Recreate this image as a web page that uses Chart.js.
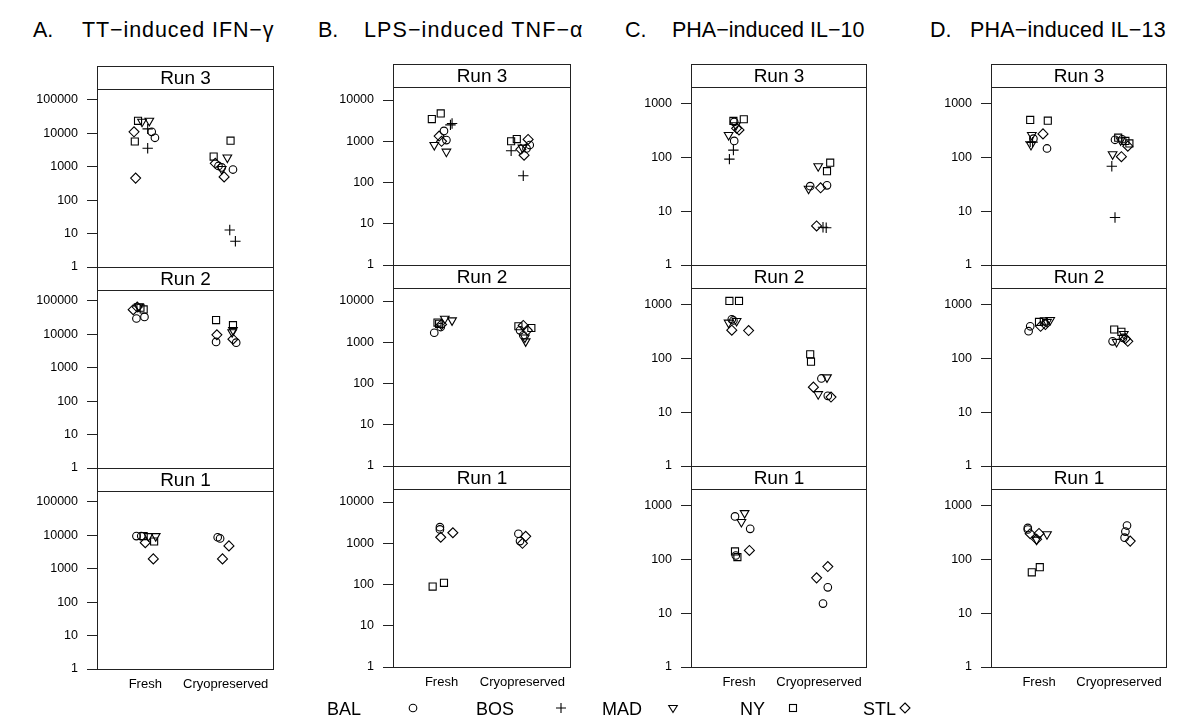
<!DOCTYPE html>
<html>
<head>
<meta charset="utf-8">
<script src="https://cdn.jsdelivr.net/npm/chart.js@4.4.0/dist/chart.umd.min.js"></script>
<style>
  body { margin: 0; background: #fff; width: 1200px; height: 727px; position: relative; overflow: hidden;
         font-family: "Liberation Sans", Arial, sans-serif; color: #000; }
  canvas { position: absolute; }
  .title { position: absolute; font-size: 21.5px; white-space: pre; line-height: 1; }
  .leg { position: absolute; font-size: 18px; line-height: 1; top: 700px; }
  .sym { position: absolute; top: 701px; }
</style>
</head>
<body>
<script>
// categories
var sites = ['BAL', 'BOS', 'MAD', 'NY', 'STL'];
var groups = ['Fresh', 'Cryopreserved'];
var runs = ['Run 3', 'Run 2', 'Run 1'];

// y tick labels per panel column
var ticksA = [1, 10, 100, 1000, 10000, 100000];
var ticksB = [1, 10, 100, 1000, 10000];
var ticksC = [1, 10, 100, 1000];
var ticksD = [1, 10, 100, 1000];

// points: [x (1 = Fresh, 2 = Cryopreserved, jittered), value]
// A. TT-induced IFN-gamma
var A3 = {
  BAL: [[1.08, 11000], [1.12, 7300], [1.91, 1050], [1.95, 950], [2.09, 820]],
  BOS: [[1.03, 3560], [1.03, 13500], [2.05, 12.8], [2.12, 5.9]],
  MAD: [[0.96, 22000], [1.05, 23500], [2.02, 1870], [1.95, 850]],
  NY:  [[0.91, 23500], [0.87, 5650], [2.06, 6000], [1.85, 2000]],
  STL: [[0.86, 11000], [0.88, 455], [1.87, 1260], [1.98, 495]]
};
var A2 = {
  BAL: [[0.89, 29500], [0.99, 33000], [1.88, 5900], [2.13, 5600]],
  BOS: [],
  MAD: [[0.92, 68000], [2.09, 13300], [2.08, 11500]],
  NY:  [[0.98, 55000], [0.94, 62000], [1.88, 26500], [2.09, 18700]],
  STL: [[0.85, 54000], [0.90, 65000], [1.89, 9600], [2.09, 7100]]
};
var A1 = {
  BAL: [[0.89, 9400], [0.95, 9400], [1.90, 8700], [1.93, 8000]],
  BOS: [],
  MAD: [[1.04, 9400], [1.13, 9400]],
  NY:  [[0.98, 9400], [1.11, 6500]],
  STL: [[1.00, 6000], [1.10, 1960], [2.04, 4800], [1.96, 1960]]
};
// B. LPS-induced TNF-alpha
var B3 = {
  BAL: [[1.03, 1780], [1.06, 1070], [2.09, 810], [2.05, 670]],
  BOS: [[1.13, 2700], [1.11, 2500], [1.86, 590], [2.01, 146]],
  MAD: [[0.91, 810], [1.06, 560], [2.00, 700]],
  NY:  [[0.88, 3460], [0.99, 4740], [1.86, 1000], [1.93, 1130]],
  STL: [[0.97, 1340], [1.00, 1000], [2.07, 1110], [1.98, 640], [2.02, 460]]
};
var B2 = {
  BAL: [[0.91, 1700], [0.99, 2340], [1.97, 1950], [2.01, 1480]],
  BOS: [],
  MAD: [[1.04, 3730], [1.13, 3400], [2.04, 1050], [2.03, 1300]],
  NY:  [[0.95, 3000], [0.97, 2800], [1.95, 2450], [2.11, 2220]],
  STL: [[1.00, 2700], [2.01, 2560], [2.06, 1950]]
};
var B1 = {
  BAL: [[0.98, 2460], [0.98, 2170], [1.95, 1700], [1.97, 1130]],
  BOS: [],
  MAD: [],
  NY:  [[0.89, 89], [1.03, 110]],
  STL: [[0.99, 1400], [1.14, 1800], [2.04, 1470], [2.00, 1000]]
};
// C. PHA-induced IL-10
var C3 = {
  BAL: [[0.94, 450], [0.94, 200], [1.89, 29], [2.10, 30]],
  BOS: [[0.93, 135], [0.88, 92], [2.05, 5.0], [2.09, 4.9]],
  MAD: [[0.87, 257], [0.96, 390], [1.99, 68], [1.87, 26]],
  NY:  [[0.93, 470], [1.06, 505], [2.14, 79], [2.10, 55]],
  STL: [[0.97, 343], [1.00, 320], [2.02, 27], [1.97, 5.3]]
};
var C2 = {
  BAL: [[0.91, 525], [0.93, 500], [2.03, 42], [2.11, 20]],
  BOS: [],
  MAD: [[0.87, 455], [0.97, 490], [2.10, 44], [1.99, 21.5]],
  NY:  [[0.88, 1150], [1.00, 1150], [1.89, 118], [1.90, 86]],
  STL: [[0.91, 330], [1.12, 325], [1.93, 29], [2.15, 19]]
};
var C1 = {
  BAL: [[0.95, 620], [1.14, 365], [0.96, 117], [2.11, 30], [2.05, 15]],
  BOS: [],
  MAD: [[1.07, 715], [1.03, 490]],
  NY:  [[0.95, 139], [0.98, 109]],
  STL: [[1.13, 145], [2.11, 73], [1.97, 45]]
};
// D. PHA-induced IL-13
var D3 = {
  BAL: [[0.93, 220], [1.10, 145], [1.95, 210], [2.04, 215]],
  BOS: [[0.89, 193], [0.92, 190], [1.91, 68], [1.95, 7.6]],
  MAD: [[0.91, 257], [0.90, 168], [1.92, 113], [2.02, 205]],
  NY:  [[0.89, 490], [1.11, 475], [1.99, 230], [2.08, 200], [2.13, 180]],
  STL: [[1.05, 270], [2.11, 160], [2.03, 102]]
};
var D2 = {
  BAL: [[0.87, 316], [0.89, 390], [1.92, 205], [2.05, 237]],
  BOS: [],
  MAD: [[1.10, 470], [1.14, 510], [1.97, 200], [2.06, 280]],
  NY:  [[1.00, 470], [1.06, 480], [1.94, 340], [2.03, 308]],
  STL: [[1.02, 390], [1.08, 420], [2.11, 205], [2.08, 230]]
};
var D1 = {
  BAL: [[0.86, 380], [0.86, 355], [2.10, 420], [2.08, 325], [2.07, 250]],
  BOS: [],
  MAD: [[0.97, 230], [1.10, 290]],
  NY:  [[0.91, 57], [1.01, 71]],
  STL: [[0.89, 297], [0.97, 233], [1.00, 300], [2.14, 216]]
};

// layout of the four columns (pixels)
var AXIS_W = 80, STRIP_H = 23, PAD_R = 8, EXTRA = 20, XAXIS_H = 30;
var columns = [
  { letter: 'A.', title: 'TT\u2212induced IFN\u2212\u03b3', tx: 33, sx: 82,  ls: 0.9, left: 97,  width: 177, top: 66, rowH: 201, ymax: 2.1e5,  ticks: ticksA, data: [A3, A2, A1] },
  { letter: 'B.', title: 'LPS\u2212induced TNF\u2212\u03b1', tx: 318, sx: 364, ls: 1.1, left: 393, width: 178, top: 64, rowH: 201, ymax: 2.07e4, ticks: ticksB, data: [B3, B2, B1] },
  { letter: 'C.', title: 'PHA\u2212induced IL\u221210',     tx: 625, sx: 672, ls: 0,   left: 691, width: 176, top: 64, rowH: 201, ymax: 2000,   ticks: ticksC, data: [C3, C2, C1] },
  { letter: 'D.', title: 'PHA\u2212induced IL\u221213',     tx: 930, sx: 970, ls: 0.2, left: 991, width: 176, top: 64, rowH: 201, ymax: 2000,   ticks: ticksD, data: [D3, D2, D1] }
];

var symbols = {
  BAL: { pointStyle: 'circle', radius: 3.8, rotation: 0 },
  BOS: { pointStyle: 'cross', radius: 5.2, rotation: 0 },
  MAD: { pointStyle: 'triangle', radius: 5, rotation: 180 },
  NY:  { pointStyle: 'rect', radius: 5, rotation: 0 },
  STL: { pointStyle: 'rectRot', radius: 5, rotation: 0 }
};

var LINE = '#222';
var FONT = '"Liberation Sans", Arial, sans-serif';

// strip + panel box
var framePlugin = {
  id: 'frame',
  afterDraw: function (chart, args, opts) {
    var a = chart.chartArea, ctx = chart.ctx;
    var l = Math.round(a.left) + 0.5, r = Math.round(a.right) - 0.5;
    var t = Math.round(a.top) + 0.5, b = Math.round(a.bottom) + 0.5;
    var st = t - STRIP_H;
    ctx.save();
    ctx.strokeStyle = LINE;
    ctx.lineWidth = 1;
    ctx.strokeRect(l, st, r - l, b - st);
    ctx.beginPath();
    ctx.moveTo(l, t);
    ctx.lineTo(r, t);
    ctx.stroke();
    ctx.fillStyle = '#000';
    ctx.font = '19px ' + FONT;
    ctx.textAlign = 'center';
    ctx.textBaseline = 'middle';
    ctx.fillText(opts.label, (l + r) / 2, st + STRIP_H / 2 + 1);
    ctx.restore();
  }
};

function addText(cls, text, x, y) {
  var d = document.createElement('div');
  d.className = cls;
  d.textContent = text;
  d.style.left = x + 'px';
  if (y !== undefined) d.style.top = y + 'px';
  document.body.appendChild(d);
  return d;
}

columns.forEach(function (col) {
  addText('title', col.letter, col.tx, 20);
  addText('title', col.title, col.sx, 20).style.letterSpacing = col.ls + 'px';

  col.data.forEach(function (panel, r) {
    var bottom = r === runs.length - 1;
    var canvas = document.createElement('canvas');
    var w = AXIS_W + col.width + PAD_R;
    var h = col.rowH + (bottom ? XAXIS_H : EXTRA);
    canvas.width = w;
    canvas.height = h;
    canvas.style.left = (col.left - AXIS_W) + 'px';
    canvas.style.top = (col.top + r * col.rowH) + 'px';
    document.body.appendChild(canvas);

    var datasets = sites.map(function (s) {
      var sym = symbols[s];
      return {
        label: s,
        data: panel[s].map(function (p) { return { x: p[0], y: p[1] }; }),
        pointStyle: sym.pointStyle,
        pointRadius: sym.radius,
        pointRotation: sym.rotation,
        borderColor: '#000',
        backgroundColor: 'rgba(0,0,0,0)',
        pointBorderWidth: 1.1,
        showLine: false
      };
    });

    new Chart(canvas.getContext('2d'), {
      type: 'scatter',
      data: { datasets: datasets },
      plugins: [framePlugin],
      options: {
        responsive: false,
        animation: false,
        events: [],
        layout: { padding: { top: STRIP_H, right: PAD_R, left: 0, bottom: bottom ? 0 : EXTRA } },
        plugins: {
          legend: { display: false },
          tooltip: { enabled: false },
          frame: { label: runs[r] }
        },
        scales: {
          x: {
            type: 'linear',
            min: 0.4,
            max: 2.6,
            display: bottom,
            afterBuildTicks: function (scale) { scale.ticks = [{ value: 1 }, { value: 2 }]; },
            afterFit: function (scale) { if (bottom) scale.height = XAXIS_H; },
            grid: { display: false, drawTicks: false },
            border: { display: false },
            ticks: {
              padding: 8,
              color: '#000',
              font: { family: FONT, size: 13 },
              maxRotation: 0,
              autoSkip: false,
              callback: function (v) { return groups[v - 1]; }
            }
          },
          y: {
            type: 'logarithmic',
            min: 1,
            max: col.ymax,
            afterBuildTicks: function (scale) {
              scale.ticks = col.ticks.map(function (v) { return { value: v }; });
            },
            afterFit: function (scale) { scale.width = AXIS_W; },
            grid: { display: true, drawOnChartArea: false, tickLength: 10, color: LINE, lineWidth: 1 },
            border: { display: false },
            ticks: {
              padding: 9,
              color: '#000',
              font: { family: FONT, size: 12.5 },
              autoSkip: false,
              callback: function (v) { return String(v); }
            }
          }
        }
      }
    });
  });
});

// legend
var legendX = [327, 476, 602, 740, 863];
var symX = [413, 561, 673, 793, 905];
var svgShapes = {
  BAL: '<circle cx="7" cy="7" r="3.8" fill="none" stroke="#000" stroke-width="1.1"/>',
  BOS: '<path d="M2 7H12M7 2V12" stroke="#000" stroke-width="1.1"/>',
  MAD: '<path d="M2.7 4.5H11.3L7 11.5Z" fill="none" stroke="#000" stroke-width="1.1"/>',
  NY:  '<rect x="3.5" y="3.5" width="7" height="7" fill="none" stroke="#000" stroke-width="1.1"/>',
  STL: '<path d="M7 2L12 7L7 12L2 7Z" fill="none" stroke="#000" stroke-width="1.1"/>'
};
sites.forEach(function (s, i) {
  addText('leg', s, legendX[i]);
  var d = document.createElement('div');
  d.className = 'sym';
  d.style.left = (symX[i] - 7) + 'px';
  d.innerHTML = '<svg width="14" height="14" viewBox="0 0 14 14">' + svgShapes[s] + '</svg>';
  document.body.appendChild(d);
});
</script>
</body>
</html>
